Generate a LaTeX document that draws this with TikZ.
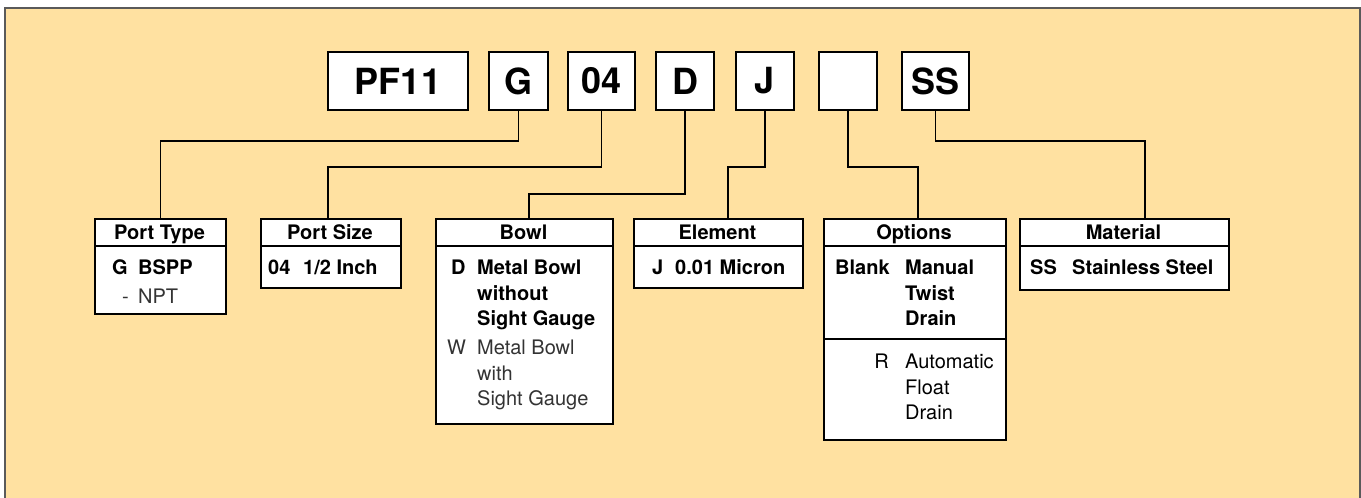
\documentclass[tikz,border=0pt]{standalone}
\usepackage{fontspec}
\setmainfont{TeX Gyre Heros}
\definecolor{beige}{RGB}{255,225,161}
\definecolor{frame}{RGB}{90,90,90}
\begin{document}
\begin{tikzpicture}[x=1pt,y=-1pt,
  codebox/.style={draw=black,fill=white,line width=2pt,minimum height=58pt,inner sep=0pt,
    font=\fontsize{36}{40}\selectfont\bfseries},
  infobox/.style={draw=black,fill=white,line width=2pt,anchor=north west,inner sep=0pt},
  divider/.style={line width=2pt},
  conn/.style={line width=1.2pt},
  hdr/.style={font=\fontsize{20}{24}\selectfont\bfseries,anchor=base,inner sep=0pt},
  bt/.style={font=\fontsize{20}{24}\selectfont\bfseries,anchor=base west,inner sep=0pt},
  bte/.style={font=\fontsize{20}{24}\selectfont\bfseries,anchor=base east,inner sep=0pt},
  lt/.style={font=\fontsize{20}{24}\selectfont,text=black!80,anchor=base west,inner sep=0pt},
  lte/.style={font=\fontsize{20}{24}\selectfont,text=black!80,anchor=base east,inner sep=0pt}]
\useasboundingbox (0,0) rectangle (1361,498);
\fill[white] (0,0) rectangle (1361,498);
\fill[beige] (5,8) rectangle (1360,500);
\draw[frame,line width=1.5pt] (5,500) -- (5,8) -- (1360,8) -- (1360,500);

% code boxes
\node[codebox,minimum width=140pt] (pf) at (398,81) {PF11};
\node[codebox,minimum width=59pt] (g) at (518.5,81) {G};
\node[codebox,minimum width=67pt] (n04) at (601.5,81) {04};
\node[codebox,minimum width=58pt] (d) at (685,81) {D};
\node[codebox,minimum width=58pt] (j) at (765,81) {J};
\node[codebox,minimum width=58pt] (bl) at (848,81) {};
\node[codebox,minimum width=67pt] (ss) at (935.5,81) {SS};

% info boxes
\node[infobox,minimum width=131pt,minimum height=95pt] (pt) at (94,218) {};
\node[infobox,minimum width=140pt,minimum height=69pt] (ps) at (260,218) {};
\node[infobox,minimum width=177pt,minimum height=205pt] (bw) at (435,218) {};
\node[infobox,minimum width=169pt,minimum height=69pt] (el) at (633,218) {};
\node[infobox,minimum width=182pt,minimum height=221pt] (op) at (823,218) {};
\node[infobox,minimum width=209pt,minimum height=71pt] (ma) at (1019,218) {};

\foreach \b in {pt,ps,bw,el,op,ma}{
  \draw[divider] ([yshift=-28pt]\b.north west) -- ([yshift=-28pt]\b.north east);
}
\draw[divider] ([yshift=-121pt]op.north west) -- ([yshift=-121pt]op.north east);

% connectors
\draw[conn] (g.south) -- ++(0,30) -| (pt.north);
\draw[conn] (n04.south) -- ++(0,56) -| ([xshift=-3pt]ps.north);
\draw[conn] (d.south) -- ++(0,83) -| ([xshift=4.5pt]bw.north);
\draw[conn] (j.south) -- ++(0,56) -| ([xshift=9.5pt]el.north);
\draw[conn] (bl.south) -- ++(0,56) -| ([xshift=3pt]op.north);
\draw[conn] (ss.south) -- ++(0,30) -| ([xshift=20.5pt]ma.north);

% headers
\node[hdr] (hpt) at (159.5,239) {Port Type};
\node[hdr] (hps) at (330,239) {Port Size};
\node[hdr] (hbw) at (523.5,239) {Bowl};
\node[hdr] (hel) at (717.5,239) {Element};
\node[hdr] (hop) at (914,239) {Options};
\node[hdr] (hma) at (1123.5,239) {Material};

% Port Type
\node[bt] (ptg) at (112,274) {G};
\node[bt] (ptb) at (138,274) {BSPP};
\node[lt] (ptd) at (122,303) {-};
\node[lt] (ptn) at (138,303) {NPT};

% Port Size
\node[bt] (ps1) at (268,274) {04};
\node[bt] (ps2) at (303,274) {1/2 Inch};

% Bowl
\node[bt] (bwd) at (451,274) {D};
\node[bt] (bw1) at (477,274) {Metal Bowl};
\node[bt] (bw2) at (477,300) {without};
\node[bt] (bw3) at (477,325) {Sight Gauge};
\node[lt] (bww) at (447,354) {W};
\node[lt] (bw4) at (477,354) {Metal Bowl};
\node[lt] (bw5) at (477,380) {with};
\node[lt] (bw6) at (477,405) {Sight Gauge};

% Element
\node[bt] (elj) at (652,274) {J};
\node[bt] (el1) at (675,274) {0.01 Micron};

% Options
\node[bt] (opb) at (835,274) {Blank};
\node[bt] (op1) at (905,274) {Manual};
\node[bt] (op2) at (905,300) {Twist};
\node[bt] (op3) at (905,325) {Drain};
\node[lte,text=black] (opr) at (889,368) {R};
\node[lt,text=black] (op4) at (905,368) {Automatic};
\node[lt,text=black] (op5) at (905,394) {Float};
\node[lt,text=black] (op6) at (905,419) {Drain};

% Material
\node[bt] (mas) at (1030,274) {SS};
\node[bt] (ma1) at (1072,274) {Stainless Steel};
\end{tikzpicture}
\end{document}
